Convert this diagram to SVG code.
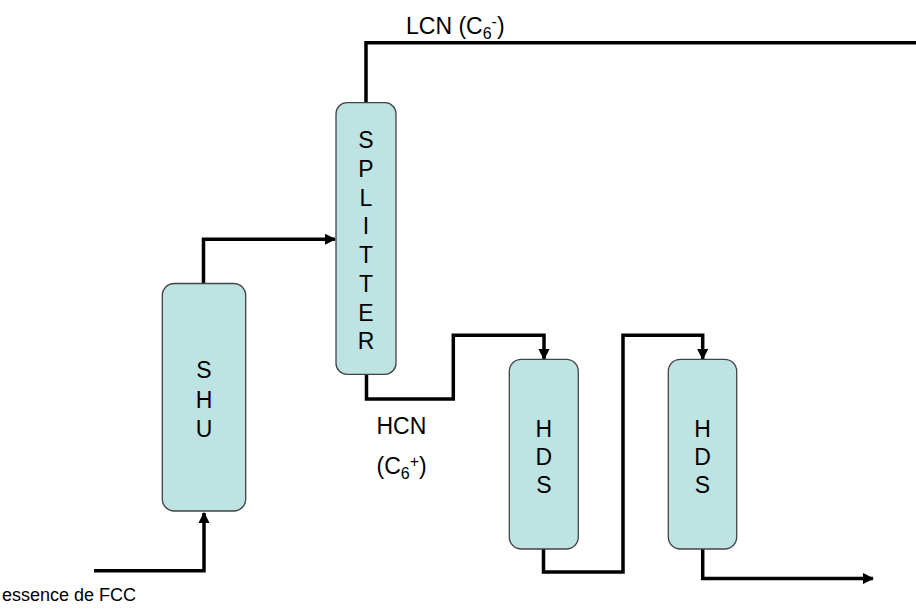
<svg xmlns="http://www.w3.org/2000/svg" width="916" height="610" viewBox="0 0 916 610">
<style>
.box{fill:#bde3e3;stroke:#444;stroke-width:1.3}
.lbl{font-family:"Liberation Sans",Arial,sans-serif;font-size:23px;fill:#000}
.ctr{text-anchor:middle}
.wire{fill:none;stroke:#000;stroke-width:3.5;stroke-linejoin:miter}
.sub{font-size:16px}
</style>
<defs>
<marker id="ah" viewBox="0 0 10 10" refX="9" refY="5" markerWidth="3.2" markerHeight="3.2" orient="auto" markerUnits="strokeWidth">
<path d="M0,0 L10,5 L0,10 z" fill="#000"/>
</marker>
</defs>
<rect width="916" height="610" fill="#fff"/>
<g id="connectors">
<polyline class="wire" points="94,570.7 204,570.7 204,513" marker-end="url(#ah)"/>
<polyline class="wire" points="203.5,283.5 203.5,239.3 335,239.3" marker-end="url(#ah)"/>
<polyline class="wire" points="366,103 366,42.7 930,42.7" marker-end="url(#ah)"/>
<polyline class="wire" points="366.5,374 366.5,399 453.3,399 453.3,335.3 544,335.3 544,359" marker-end="url(#ah)"/>
<polyline class="wire" points="543.5,549 543.5,572 623,572 623,335.3 702.7,335.3 702.7,359" marker-end="url(#ah)"/>
<polyline class="wire" points="702.7,549 702.7,578.5 873,578.5" marker-end="url(#ah)"/>
</g>
<g id="shu">
<rect class="box" x="162.3" y="283.5" width="83.4" height="227.5" rx="12"/>
<text class="lbl ctr" x="204" y="378">S</text>
<text class="lbl ctr" x="204" y="408">H</text>
<text class="lbl ctr" x="204" y="437">U</text>
</g>
<g id="splitter">
<rect class="box" x="336" y="102.7" width="60" height="271.6" rx="11"/>
<text class="lbl ctr" x="366" y="148">S</text>
<text class="lbl ctr" x="366" y="177">P</text>
<text class="lbl ctr" x="366" y="205.5">L</text>
<text class="lbl ctr" x="366" y="234">I</text>
<text class="lbl ctr" x="366" y="263">T</text>
<text class="lbl ctr" x="366" y="291.5">T</text>
<text class="lbl ctr" x="366" y="320.5">E</text>
<text class="lbl ctr" x="366" y="349">R</text>
</g>
<g id="hds1">
<rect class="box" x="509.3" y="359.3" width="69" height="189.7" rx="12"/>
<text class="lbl ctr" x="543.8" y="436.7">H</text>
<text class="lbl ctr" x="543.8" y="465">D</text>
<text class="lbl ctr" x="543.8" y="492.7">S</text>
</g>
<g id="hds2">
<rect class="box" x="668.3" y="359.3" width="68.4" height="189.7" rx="12"/>
<text class="lbl ctr" x="702.5" y="436.7">H</text>
<text class="lbl ctr" x="702.5" y="465">D</text>
<text class="lbl ctr" x="702.5" y="492.7">S</text>
</g>
<g id="labels">
<text class="lbl" x="406" y="34">LCN (C<tspan class="sub" dy="5">6</tspan><tspan class="sub" dy="-12">-</tspan><tspan dy="7">)</tspan></text>
<text class="lbl" x="376.5" y="434.3">HCN</text>
<text class="lbl" x="376.5" y="473.5">(C<tspan class="sub" dy="5">6</tspan><tspan class="sub" dy="-12">+</tspan><tspan dy="7">)</tspan></text>
<text class="lbl" x="2" y="601" style="font-size:18px">essence de FCC</text>
</g>
</svg>
